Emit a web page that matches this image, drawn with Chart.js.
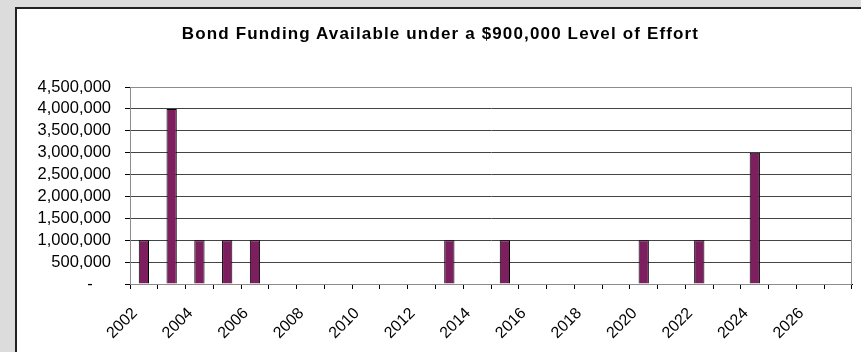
<!DOCTYPE html>
<html>
<head>
<meta charset="utf-8">
<script src="https://cdn.jsdelivr.net/npm/chart.js@4"></script>
<style>
  html, body { margin: 0; padding: 0; }
  body { width: 861px; height: 352px; background: #dcdcdc; position: relative; overflow: hidden; }
  #box { position: absolute; left: 15px; top: 7px; width: 900px; height: 400px; background: #fff;
         border-left: 2px solid #222; border-top: 2px solid #222; }
  #chart { position: absolute; left: 0; top: 0; }
  #title { position: absolute; left: 0; width: 881px; top: 24px; text-align: center;
           font: bold 17px 'Liberation Sans', Arial, sans-serif; letter-spacing: 1.15px; color: #000;
           line-height: 20px; white-space: nowrap; }
</style>
</head>
<body>
<div id="box"></div>
<canvas id="chart" width="861" height="352"></canvas>
<div id="title">Bond Funding Available under a $900,000 Level of Effort</div>
<script>
// Bond funding per year
const years = ['2002', '2003', '2004', '2005', '2006', '2007', '2008', '2009', '2010', '2011', '2012', '2013', '2014',
  '2015', '2016', '2017', '2018', '2019', '2020', '2021', '2022', '2023', '2024', '2025', '2026', '2027'];
const funding = [1000000, 4000000, 1000000, 1000000, 1000000, 0, 0, 0, 0, 0, 0, 1000000, 0,
  1000000, 0, 0, 0, 0, 1000000, 0, 1000000, 0, 3000000, 0, 0, 0];
const yMax = 4500000;
const yStep = 500000;

const FONT = "'Liberation Sans', Arial, sans-serif";

// grey frame round the plot area (left and bottom axes draw black on top)
const plotFrame = {
  id: 'plotFrame',
  beforeDatasetsDraw(chart) {
    const { ctx, chartArea } = chart;
    ctx.save();
    ctx.strokeStyle = '#8c8c8c';
    ctx.lineWidth = 1;
    ctx.strokeRect(chartArea.left + 0.5, chartArea.top + 0.5, chartArea.right - chartArea.left - 1, chartArea.bottom - chartArea.top);
    ctx.restore();
  }
};

new Chart(document.getElementById('chart'), {
  type: 'bar',
  data: {
    labels: years,
    datasets: [{
      data: funding,
      backgroundColor: '#7d1f5f',
      borderColor: '#000',
      borderWidth: 1,
      barPercentage: 0.37,
      categoryPercentage: 1
    }]
  },
  options: {
    responsive: false,
    animation: false,
    layout: { padding: { left: 28, right: 9, top: 87, bottom: 0 } },
    plugins: {
      legend: { display: false },
      tooltip: { enabled: false },
      title: { display: false }
    },
    scales: {
      x: {
        grid: { offset: true, drawOnChartArea: false, drawTicks: true, tickLength: 5, tickColor: '#000' },
        border: { color: '#000', width: 1 },
        ticks: {
          color: '#000',
          font: { family: FONT, size: 16 },
          autoSkip: false,
          maxRotation: 45,
          minRotation: 45,
          padding: 15,
          labelOffset: -9,
          callback: (v, i) => (i % 2 === 0 ? years[i] : '')
        },
        afterFit(scale) {
          scale.height = 68;
          scale.paddingLeft = 0;
          scale.paddingRight = 0;
        }
      },
      y: {
        min: 0,
        max: yMax,
        grid: { color: '#444', tickLength: 5, tickColor: '#000' },
        border: { color: '#000', width: 1 },
        ticks: {
          stepSize: yStep,
          autoSkip: false,
          color: '#000',
          padding: 14,
          font: { family: FONT, size: 16.5 },
          callback: v => (v === 0 ? '-    ' : v.toLocaleString('en-US'))
        },
        afterFit(scale) {
          scale.width = 102;
          scale.paddingTop = 0;
          scale.paddingBottom = 0;
        }
      }
    }
  },
  plugins: [plotFrame]
});
</script>
</body>
</html>
